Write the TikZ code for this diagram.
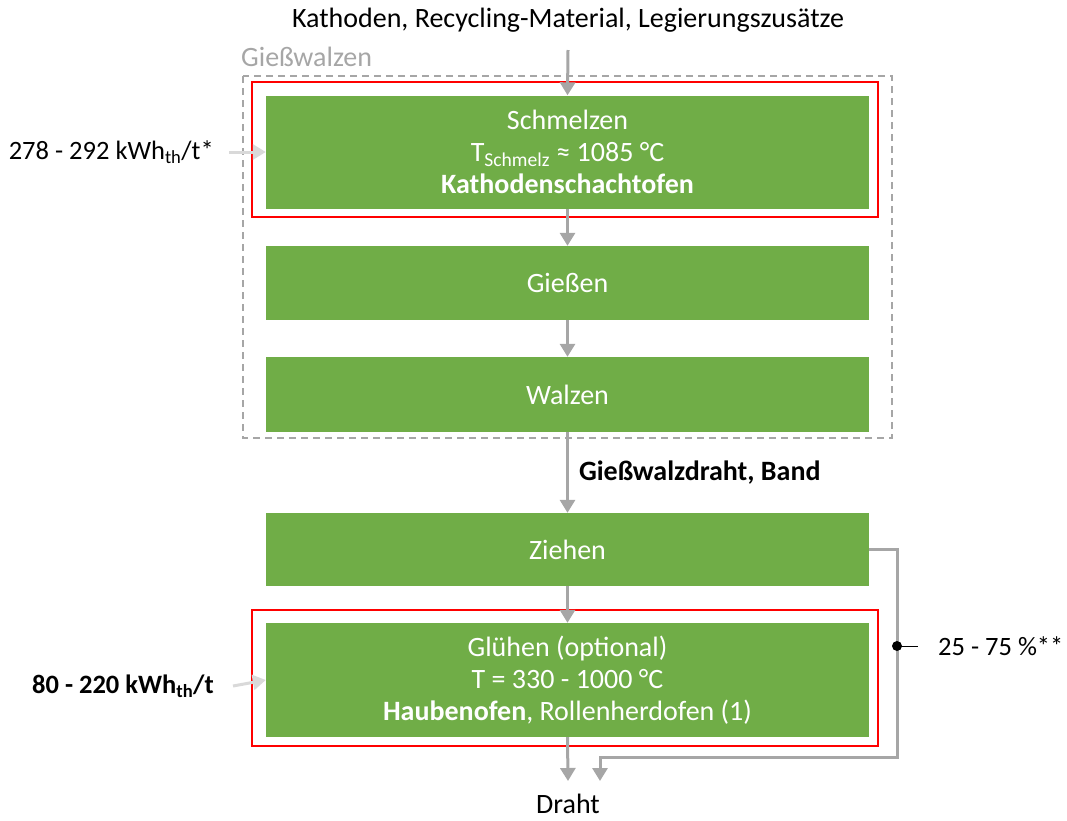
\documentclass[tikz,border=0pt]{standalone}
\usepackage{fontspec}
\setmainfont{Carlito}
\usetikzlibrary{arrows.meta}
\definecolor{boxgreen}{HTML}{70AD47}
\definecolor{arrgray}{HTML}{A6A6A6}
\definecolor{lightgray2}{HTML}{D9D9D9}
\definecolor{redframe}{HTML}{FF0000}
\begin{document}
\begin{tikzpicture}[x=1pt,y=-1pt,
  every node/.style={font=\fontsize{28}{32}\selectfont, inner sep=0pt},
  sidetext/.style={font=\fontsize{26.5}{32}\selectfont},
  stepbox/.style={fill=boxgreen, text=white, minimum width=603pt, align=center},
  flow/.style={draw=arrgray, line width=3pt, -{Triangle[width=15pt,length=13pt]}},
  feed/.style={draw=lightgray2, line width=3pt, -{Triangle[width=15pt,length=13pt]}},
  redbox/.style={draw=redframe, line width=1.8pt},
  group/.style={draw=arrgray, line width=1.6pt, dash pattern=on 7pt off 5pt}
]
\useasboundingbox (0,0) rectangle (1067,820);

% group frame
\draw[group] (243,76) rectangle (892,438);
\node[anchor=west, text=arrgray] (glabel) at (241,57) {Gießwalzen};

% red frames
\draw[redbox] (252,82) rectangle (878,217);
\draw[redbox] (252,610) rectangle (878,746);

% process boxes
\node[stepbox, minimum height=113pt] (schmelzen) at (567.5,152)
  {Schmelzen\\T\textsubscript{Schmelz} ≈ 1085 °C\\\textbf{Kathodenschachtofen}};
\node[stepbox, minimum height=74pt] (giessen) at (567.5,283) {Gießen};
\node[stepbox, minimum height=75pt] (walzen) at (567.5,394.5) {Walzen};
\node[stepbox, minimum height=73pt] (ziehen) at (567.5,549.5) {Ziehen};
\node[stepbox, minimum height=114pt] (gluehen) at (567.5,680)
  {Glühen (optional)\\T = 330 - 1000 °C\\\textbf{Haubenofen}, Rollenherdofen (1)};

% texts
\node (input) at (568,20) {Kathoden, Recycling-Material, Legierungszusätze};
\node (draht) at (568,804) {Draht};
\node[anchor=east, sidetext] (e1) at (214,152) {278 - 292 kWh\textsubscript{th}/t*};
\node[anchor=east, sidetext] (e2) at (214,686) {\textbf{80 - 220 kWh\textsubscript{th}/t}};
\node[anchor=west, sidetext] (pct) at (938,646) {25 - 75 \%**};

% coordinates
\coordinate (intop) at (568,50);
\coordinate (e1s) at (229,152);
\coordinate (e2s) at (233,686);
\coordinate (dtip) at (568,781);
\coordinate (btip) at (600,781);
\coordinate (bdot) at (897,646);
\coordinate (bdotend) at (918,646);

% main flow
\draw[flow] (intop) -- (schmelzen.north);
\draw[flow] (schmelzen.south) -- (giessen.north);
\draw[flow] (giessen.south) -- (walzen.north);
\draw[flow] (walzen.south) -- node[right=10pt, font=\fontsize{28}{32}\selectfont\bfseries] (wlabel) {Gießwalzdraht, Band} (ziehen.north);
\draw[flow] (ziehen.south) -- (gluehen.north);
\draw[flow] (gluehen.south) -- (dtip);

% bypass
\draw[flow] (ziehen.east) -| (897,757) -| (btip);
\fill (bdot) circle (5pt);
\draw[line width=1pt] (bdot) -- (bdotend);

% energy feeds
\draw[feed] (e1s) -- (schmelzen.west);
\draw[feed] (e2s) -- (gluehen.west);
\end{tikzpicture}
\end{document}
